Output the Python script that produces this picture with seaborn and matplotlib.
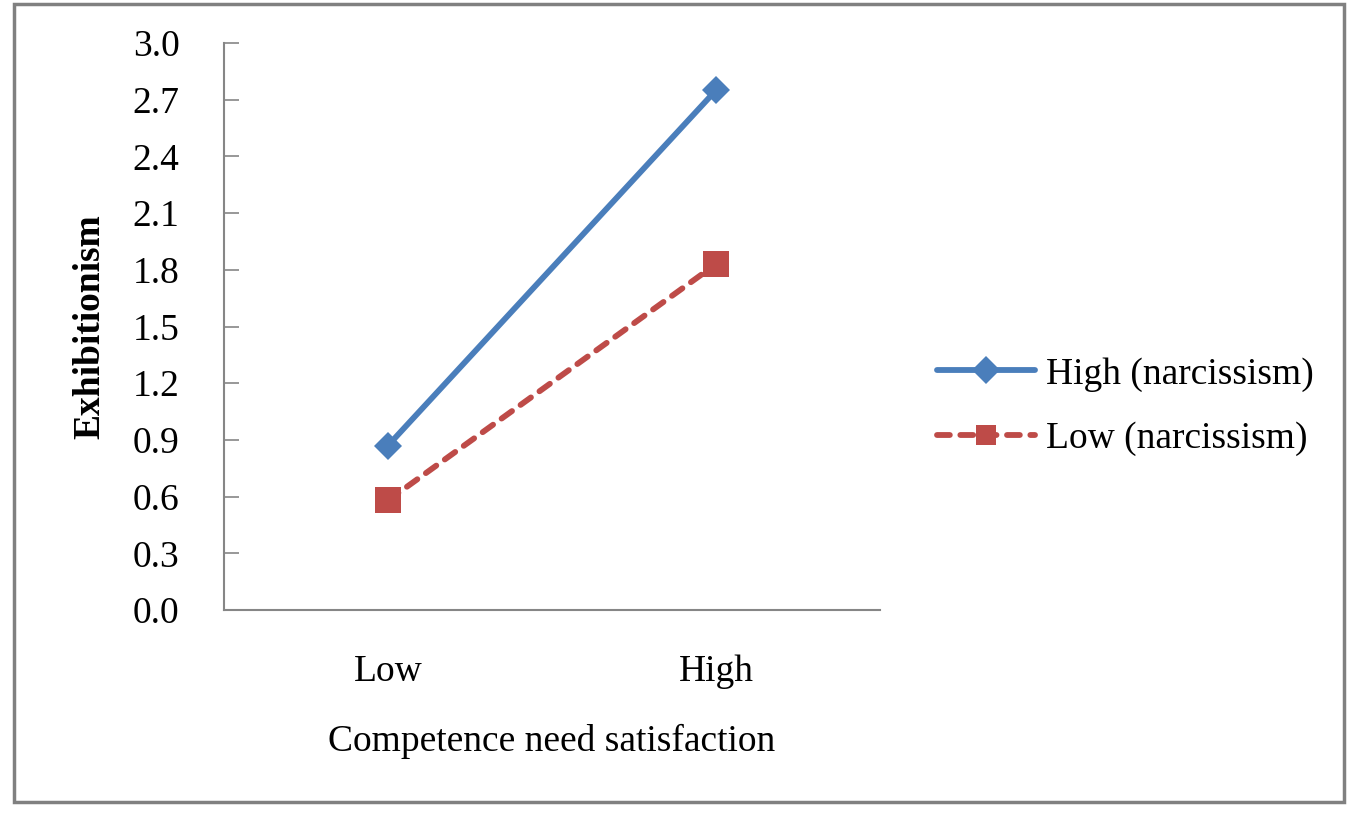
import numpy as np
import seaborn as sns
import matplotlib.pyplot as plt
import pandas as pd
from matplotlib.patches import Rectangle

# data
competence = ['Low', 'High']
high_narc = [0.87, 2.75]
low_narc = [0.58, 1.83]
groups = ['High (narcissism)', 'Low (narcissism)']
y_ticks = [0.0, 0.3, 0.6, 0.9, 1.2, 1.5, 1.8, 2.1, 2.4, 2.7, 3.0]

df = pd.DataFrame({
    'competence': competence * 2,
    'pos': list(range(len(competence))) * 2,
    'value': high_narc + low_narc,
    'group': [groups[0]] * len(competence) + [groups[1]] * len(competence),
})

sns.set_style('white')
plt.rcParams['font.family'] = ['Liberation Serif', 'DejaVu Serif']
plt.rcParams['text.color'] = 'black'
plt.rcParams['axes.labelcolor'] = 'black'
plt.rcParams['xtick.labelcolor'] = 'black'
plt.rcParams['ytick.labelcolor'] = 'black'
fontsize = 27

fig = plt.figure(figsize=(13.5, 8.19), dpi=100)
ax = fig.add_axes([224 / 1350, 1 - 610 / 819, (880 - 224) / 1350, (610 - 43) / 819])

palette = {groups[0]: '#4A7EBB', groups[1]: '#BE4B48'}
markers = {groups[0]: 'D', groups[1]: 's'}
dashes = {groups[0]: '', groups[1]: (2.2, 1.8)}

sns.lineplot(data=df, x='pos', y='value', hue='group', style='group',
             palette=palette, markers=markers, dashes=dashes,
             linewidth=4.2, markersize=14, markeredgewidth=0, ax=ax)
# diamond a bit smaller than the square
for line, ms in zip(ax.get_lines()[:2], [14, 19]):
    line.set_markersize(ms)
    line.set_dash_capstyle('round')

ax.set_xlim(-0.5, 1.5)
ax.set_ylim(0, 3.0)
ax.set_yticks(y_ticks)
ax.set_yticklabels([f'{t:.1f}' for t in y_ticks], fontsize=fontsize)
ax.set_xticks(range(len(competence)))
ax.set_xticklabels(competence, fontsize=fontsize)
ax.tick_params(axis='x', length=0, pad=32)
ax.tick_params(axis='y', direction='in', length=11, width=1.2, color='#868686',
               left=True, pad=32)

ax.set_xlabel('Competence need satisfaction', fontsize=fontsize, labelpad=25)
ax.set_ylabel('Exhibitionism', fontsize=fontsize, fontweight='bold', labelpad=18)

for side in ['top', 'right']:
    ax.spines[side].set_visible(False)
for side in ['left', 'bottom']:
    ax.spines[side].set_color('#868686')
    ax.spines[side].set_linewidth(1.5)

handles, labels = ax.get_legend_handles_labels()
for h in handles:
    h.set_dash_capstyle('round')
leg = ax.legend(handles, labels, loc='center left', bbox_to_anchor=(1.087, 0.359),
                frameon=False, fontsize=fontsize, handlelength=2.6, labelspacing=0.79,
                handletextpad=0.3, borderpad=0, borderaxespad=0)

fig.patches.append(Rectangle((14 / 1350, 1 - 802 / 819), (1344 - 14) / 1350, (802 - 4) / 819,
                             transform=fig.transFigure, fill=False,
                             edgecolor='#808080', linewidth=2.5))

fig.savefig('out.png', dpi=100)
